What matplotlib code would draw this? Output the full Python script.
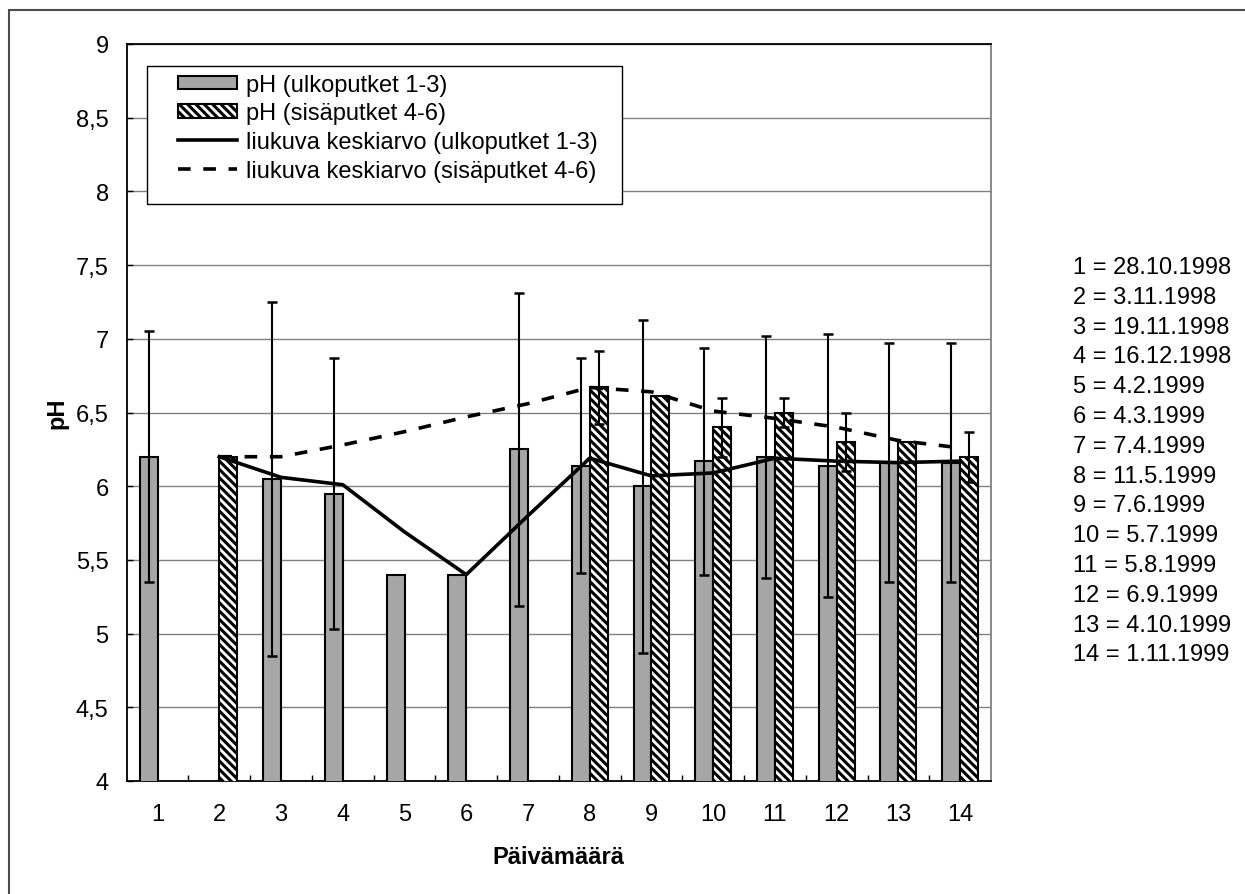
import numpy as np
import matplotlib.pyplot as plt
from matplotlib.patches import Rectangle

plt.rcParams['font.family'] = ['Liberation Sans', 'DejaVu Sans']
plt.rcParams['font.size'] = 17
plt.rcParams['hatch.linewidth'] = 2.2

nan = np.nan

# päivämäärät (numero = näytteenottokerta)
paiva = np.arange(1, 15)
pvm = ['28.10.1998', '3.11.1998', '19.11.1998', '16.12.1998', '4.2.1999',
       '4.3.1999', '7.4.1999', '11.5.1999', '7.6.1999', '5.7.1999',
       '5.8.1999', '6.9.1999', '4.10.1999', '1.11.1999']

# pH ulkoputket 1-3 ja keskihajonta
ph_ulko = [6.20, nan, 6.05, 5.95, 5.40, 5.40, 6.25, 6.14, 6.00, 6.17, 6.20, 6.14, 6.16, 6.16]
sd_ulko = [0.85, nan, 1.20, 0.92, nan, nan, 1.06, 0.73, 1.13, 0.77, 0.82, 0.89, 0.81, 0.81]

# pH sisäputket 4-6 ja keskihajonta
ph_sisa = [nan, 6.20, nan, nan, nan, nan, nan, 6.67, 6.61, 6.40, 6.50, 6.30, 6.30, 6.20]
sd_sisa = [nan, nan, nan, nan, nan, nan, nan, 0.25, nan, 0.20, 0.10, 0.20, nan, 0.17]

# liukuvat keskiarvot
ka_ulko = [nan, 6.20, 6.06, 6.01, 5.69, 5.40, 5.80, 6.19, 6.07, 6.09, 6.19, 6.17, 6.16, 6.17]
ka_sisa = [nan, 6.20, 6.20, 6.28, 6.37, 6.47, 6.56, 6.67, 6.64, 6.51, 6.46, 6.40, 6.31, 6.26]

W, H = 1245, 895
fig = plt.figure(figsize=(W / 100, H / 100), dpi=100)
ax = fig.add_axes([126.7 / W, 1 - 782 / H, (991 - 126.7) / W, (782 - 45) / H])

w = 0.29
b1 = ax.bar(paiva - w / 2, ph_ulko, w, color='#a6a6a6', edgecolor='black', lw=1.5,
            zorder=3, label='pH (ulkoputket 1-3)')
b2 = ax.bar(paiva + w / 2, ph_sisa, w, color='white', edgecolor='black', lw=1.5,
            hatch='\\\\\\\\', zorder=3, label='pH (sisäputket 4-6)')

ax.errorbar(paiva - w / 2, ph_ulko, yerr=sd_ulko, fmt='none', ecolor='black',
            elinewidth=1.5, capsize=3.5, capthick=1.8, zorder=4)
ax.errorbar(paiva + w / 2, ph_sisa, yerr=sd_sisa, fmt='none', ecolor='black',
            elinewidth=1.5, capsize=3.5, capthick=1.8, zorder=4)

l1, = ax.plot(paiva, ka_ulko, color='black', lw=2.6, zorder=5,
              label='liukuva keskiarvo (ulkoputket 1-3)')
l2, = ax.plot(paiva, ka_sisa, color='black', lw=2.6, dashes=(3.5, 3.5), zorder=5,
              label='liukuva keskiarvo (sisäputket 4-6)')

# akselit
ax.set_xlim(0.5, 14.5)
ax.set_ylim(4, 9)
ax.set_xticks(paiva)
ax.set_xticks(np.arange(1.5, 14, 1), minor=True)
ax.tick_params(axis='x', which='major', length=0, pad=15.5)
ax.tick_params(axis='x', which='minor', direction='in', length=4, width=1)
yt = np.arange(4, 9.01, 0.5)
ax.set_yticks(yt)
ax.set_yticklabels([('%g' % v).replace('.', ',') for v in yt])
ax.tick_params(axis='y', direction='in', length=4, width=1, pad=13)
ax.yaxis.grid(True, color='#808080', lw=1)
ax.set_axisbelow(True)
for s in ['left', 'bottom', 'top']:
    ax.spines[s].set_linewidth(1.3)
ax.spines['right'].set_color('#808080')
ax.spines['right'].set_linewidth(1.3)

ax.set_xlabel('Päivämäärä', fontweight='bold', va='center')
ax.xaxis.set_label_coords(0.5, -(858 - 782) / 737)
ax.set_ylabel('pH', fontweight='bold', va='center')
ax.yaxis.set_label_coords(-(126.7 - 57) / 864.3, 0.5)

# selite
ax.add_patch(Rectangle((0.0235, 0.783), 0.5495, 0.1876, transform=ax.transAxes,
                       facecolor='white', edgecolor='black', lw=1, zorder=6))
leg = ax.legend([b1, b2, l1, l2], [b1.get_label(), b2.get_label(), l1.get_label(), l2.get_label()],
                loc='upper left', bbox_to_anchor=(0.0594, 0.9596), frameon=False,
                borderpad=0, borderaxespad=0, handlelength=2.5, handleheight=0.5,
                handletextpad=0.38, labelspacing=0.28)
leg.set_zorder(7)

# päivämäärälista oikealla
for i, (n, d) in enumerate(zip(paiva, pvm)):
    fig.text(1073 / W, 1 - (268 + i * 29.8) / H, '%d = %s' % (n, d), va='center', ha='left')

# kehys
fig.add_artist(Rectangle((8.5 / W, -0.05), 1.1, 1 - 11 / H + 0.05, transform=fig.transFigure,
                         fill=False, edgecolor='#4d4d4d', lw=1.5))

fig.savefig('out.png', dpi=100)
